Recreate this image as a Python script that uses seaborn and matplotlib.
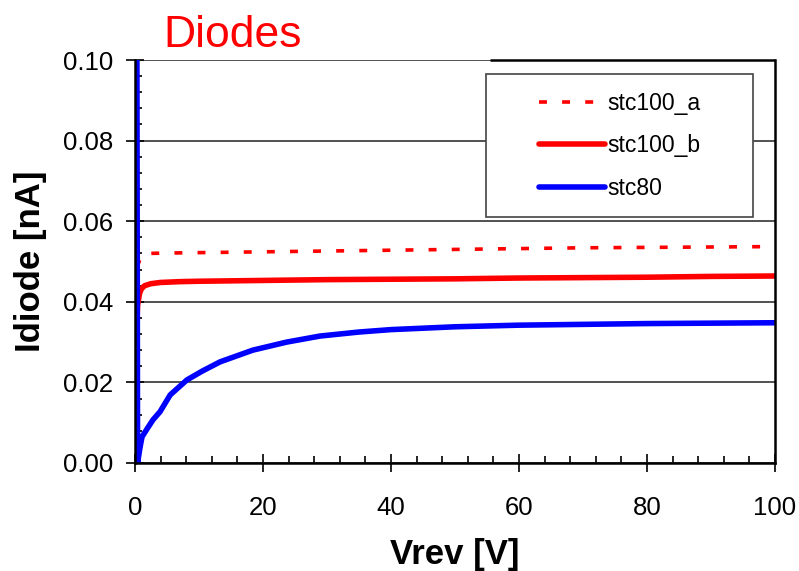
import matplotlib
matplotlib.use("Agg")
import matplotlib.pyplot as plt
from matplotlib.patches import Rectangle
from matplotlib.ticker import MultipleLocator
import seaborn as sns

# stc100_a (dashed red)
vrev_a = [0.3, 1, 2, 5, 10, 20, 30, 40, 50, 60, 70, 80, 90, 100]
idiode_a = [0.0485, 0.0515, 0.0520, 0.0521, 0.0522, 0.0524, 0.0526,
            0.0528, 0.0530, 0.0532, 0.0534, 0.0535, 0.0536, 0.0537]

# stc100_b (solid red)
vrev_b = [0.2, 0.4, 0.7, 1, 1.5, 2.5, 4, 7, 10, 20, 30, 40, 50, 60, 70, 80, 90, 100]
idiode_b = [0.030, 0.039, 0.042, 0.0432, 0.0440, 0.0445, 0.0448, 0.0450, 0.0451,
            0.0453, 0.0455, 0.0456, 0.0457, 0.0459, 0.0460, 0.0461, 0.0463, 0.0464]

# stc80 (solid blue)
vrev_80 = [0.3, 0.4, 0.8, 1.1, 1.9, 2.8, 3.9, 5.5, 8.1, 10.5, 13.3, 18.4, 23.7,
           28.9, 35, 40, 50, 60, 70, 80, 90, 100]
idiode_80 = [0.100, 0.0, 0.004, 0.0065, 0.0085, 0.0107, 0.0127, 0.0169, 0.0206,
             0.0228, 0.0251, 0.0280, 0.0300, 0.0315, 0.0325, 0.0331, 0.0338,
             0.0342, 0.0344, 0.0346, 0.0347, 0.0348]

labels = ["stc100_a", "stc100_b", "stc80"]

sns.set_theme(style="white")
plt.rcParams["font.family"] = ["Liberation Sans", "DejaVu Sans"]
plt.rcParams["text.color"] = "black"
plt.rcParams["axes.labelcolor"] = "black"

fig = plt.figure(figsize=(7.99, 5.71), dpi=100)
ax = fig.add_axes([135 / 799, 1 - 463 / 571, 640 / 799, 403 / 571])

sns.lineplot(x=vrev_a, y=idiode_a, ax=ax, color="#ff0000", lw=2.6, sort=False,
             estimator=None, linestyle=(0, (2.2, 4.2)), label=labels[0])
sns.lineplot(x=vrev_b, y=idiode_b, ax=ax, color="#ff0000", lw=4, sort=False,
             estimator=None, label=labels[1])
sns.lineplot(x=vrev_80, y=idiode_80, ax=ax, color="#0000ff", lw=4, sort=False,
             estimator=None, label=labels[2])

ax.set_xlim(0, 100)
ax.set_ylim(0, 0.10)
ax.xaxis.set_major_locator(MultipleLocator(20))
ax.xaxis.set_minor_locator(MultipleLocator(4))
ax.yaxis.set_major_locator(MultipleLocator(0.02))
ax.yaxis.set_minor_locator(MultipleLocator(0.004))
ax.yaxis.set_major_formatter(plt.FormatStrFormatter("%.2f"))

ax.tick_params(axis="both", which="major", direction="inout", length=13,
               width=1.2, color="black", labelsize=18.5, labelcolor="black")
ax.tick_params(axis="x", which="major", pad=17)
ax.tick_params(axis="y", which="major", pad=9)
ax.tick_params(axis="both", which="minor", direction="in", length=5,
               width=1.2, color="black")
ax.xaxis.set_ticks_position("bottom")
ax.yaxis.set_ticks_position("left")

ax.yaxis.grid(True, color="#333333", lw=1.2)
for t in ax.yaxis.get_major_ticks():
    t.gridline.set_visible(False)
for t in ax.yaxis.get_major_ticks()[1:-1]:
    t.gridline.set_visible(True)

ax.spines["top"].set_visible(False)
for s in ["left", "bottom", "right"]:
    ax.spines[s].set_color("black")
    ax.spines[s].set_linewidth(1.8)
ax.plot([0.555, 1], [1, 1], transform=ax.transAxes, color="black", lw=1.8,
        clip_on=False, solid_capstyle="butt")

ax.set_xlabel("Vrev [V]", fontsize=25, fontweight="bold", labelpad=13)
ax.set_ylabel("Idiode [nA]", fontsize=25, fontweight="bold", labelpad=12)

# legend box
ax.add_patch(Rectangle((0.548, 0.610), 0.418, 0.355, transform=ax.transAxes,
                       facecolor="white", edgecolor="#444444", lw=1.2, zorder=4))
leg = ax.legend(loc="center", bbox_to_anchor=(0.757, 0.787), frameon=False,
                fontsize=16.5, handlelength=2.9, handletextpad=0.1,
                labelspacing=0.85)
leg.set_zorder(5)
for txt in leg.get_texts():
    txt.set_color("black")

fig.text(163 / 799, 1 - 47 / 571, "Diodes", color="#ff0000", fontsize=32,
         va="baseline", ha="left")

fig.savefig("out.png", dpi=100)
